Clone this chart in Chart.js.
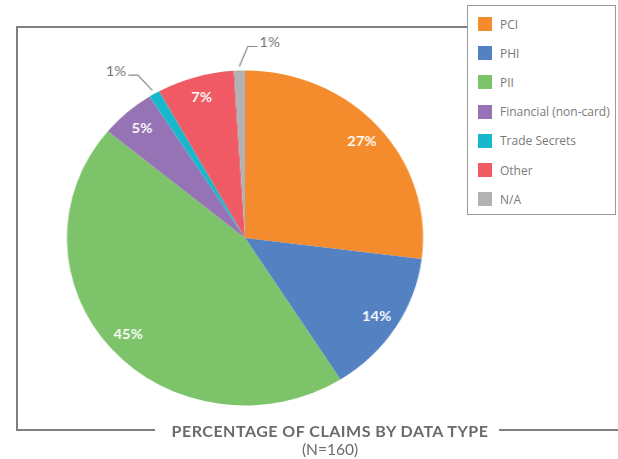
<!DOCTYPE html>
<html>
<head>
<meta charset="utf-8">
<script src="https://cdn.jsdelivr.net/npm/chart.js@4/dist/chart.umd.min.js"></script>
<style>
  body { margin: 0; background: #fff; }
  #wrap { position: relative; width: 618px; height: 459px; overflow: hidden; font-family: "Open Sans", sans-serif; }
  .ln { position: absolute; background: #7f7f7f; }
  #pieBox { position: absolute; left: 35px; top: 27.5px; width: 420px; height: 420px; transform: scaleX(1.063); transform-origin: 50% 50%; }
  #legend { position: absolute; left: 467px; top: 5px; width: 149px; height: 210px; border: 1px solid #9a9a9a; background: #fff; box-sizing: border-box; }
  .item { position: absolute; left: 10px; height: 14px; display: flex; align-items: center; font-size: 12px; color: #7a7a7a; white-space: nowrap; }
  .sw { width: 14px; height: 14px; margin-right: 8px; }
  #title { position: absolute; left: 0; width: 660px; top: 421px; text-align: center; font-family: Lato, sans-serif; font-weight: 700; font-size: 16px; letter-spacing: 0.5px; color: #6b6b6b; }
  #sub { position: absolute; left: 0; width: 660px; top: 440px; text-align: center; font-family: Lato, sans-serif; font-size: 15.5px; color: #6b6b6b; }
</style>
</head>
<body>
<div id="wrap">
  <div class="ln" style="left:16px;top:26px;width:2px;height:405px;"></div>
  <div class="ln" style="left:16px;top:26px;width:452px;height:2px;"></div>
  <div class="ln" style="left:16px;top:429px;width:139px;height:2px;"></div>
  <div class="ln" style="left:499px;top:429px;width:119px;height:2px;"></div>
  <div id="pieBox"><canvas id="claims_chart" width="420" height="420"></canvas></div>
  <div id="legend"></div>
  <div id="title">PERCENTAGE OF CLAIMS BY DATA TYPE</div>
  <div id="sub">(N=160)</div>
</div>
<script>
const claim_types = ["PCI", "PHI", "PII", "Financial (non-card)", "Trade Secrets", "Other", "N/A"];
const claim_shares = [27, 14, 45, 5, 1, 7, 1];
const claim_colors = ["#F48B2C", "#5381C1", "#7DC36A", "#9673B5", "#17B8CC", "#EF5A64", "#B2B2B5"];

// small slices get an outside label with a leader line: 1 = text to the right, -1 = to the left
const outside_side = [0, 0, 0, 0, -1, 0, 1];

const pieLabels = {
    id: "pieLabels",
    afterDatasetsDraw(chart)
    {
        const ctx = chart.ctx;
        const meta = chart.getDatasetMeta(0);
        ctx.save();
        meta.data.forEach((arc, i) =>
        {
            const p = arc.getProps(["x", "y", "startAngle", "endAngle", "outerRadius"], true);
            const mid = (p.startAngle + p.endAngle) / 2;
            const text = claim_shares[i] + "%";
            if (outside_side[i] === 0)
            {
                const r = p.outerRadius * 0.875;
                ctx.fillStyle = "#ffffff";
                ctx.font = "bold 14px Lato, sans-serif";
                ctx.textAlign = "center";
                ctx.textBaseline = "middle";
                ctx.fillText(text, p.x + Math.cos(mid) * r, p.y + Math.sin(mid) * r);
            }
            else
            {
                const side = outside_side[i];
                const sx = p.x + Math.cos(mid) * (p.outerRadius + 4);
                const sy = p.y + Math.sin(mid) * (p.outerRadius + 4);
                const ea = mid + (side > 0 ? 0.045 : -0.02);
                const ex = p.x + Math.cos(ea) * (p.outerRadius + 24);
                const ey = p.y + Math.sin(ea) * (p.outerRadius + 24);
                const hx = ex + side * 9;
                ctx.strokeStyle = "#8a8a8a";
                ctx.lineWidth = 1.2;
                ctx.beginPath();
                ctx.moveTo(sx, sy);
                ctx.lineTo(ex, ey);
                ctx.lineTo(hx, ey);
                ctx.stroke();
                ctx.fillStyle = "#737373";
                ctx.font = "14px Lato, sans-serif";
                ctx.textAlign = side > 0 ? "left" : "right";
                ctx.textBaseline = "middle";
                ctx.fillText(text, hx + side * 2, ey - 4);
            }
        });
        ctx.restore();
    }
};

const claims_chart = new Chart("claims_chart",
{
    type: "pie",
    data:
    {
        labels: claim_types,
        datasets:
        [
            {
                data: claim_shares,
                backgroundColor: claim_colors,
                borderWidth: 0
            }
        ]
    },
    options:
    {
        animation: false,
        responsive: false,
        layout: { padding: 42.5 },
        plugins:
        {
            legend: { display: false },
            tooltip: { enabled: false }
        }
    },
    plugins: [pieLabels]
});

// html legend built from the same arrays
const legend = document.getElementById("legend");
claim_types.forEach((name, i) =>
{
    const row = document.createElement("div");
    row.className = "item";
    row.style.top = (11 + i * 29.2) + "px";
    row.innerHTML = '<span class="sw" style="background:' + claim_colors[i] + '"></span>' + name;
    legend.appendChild(row);
});
</script>
</body>
</html>
